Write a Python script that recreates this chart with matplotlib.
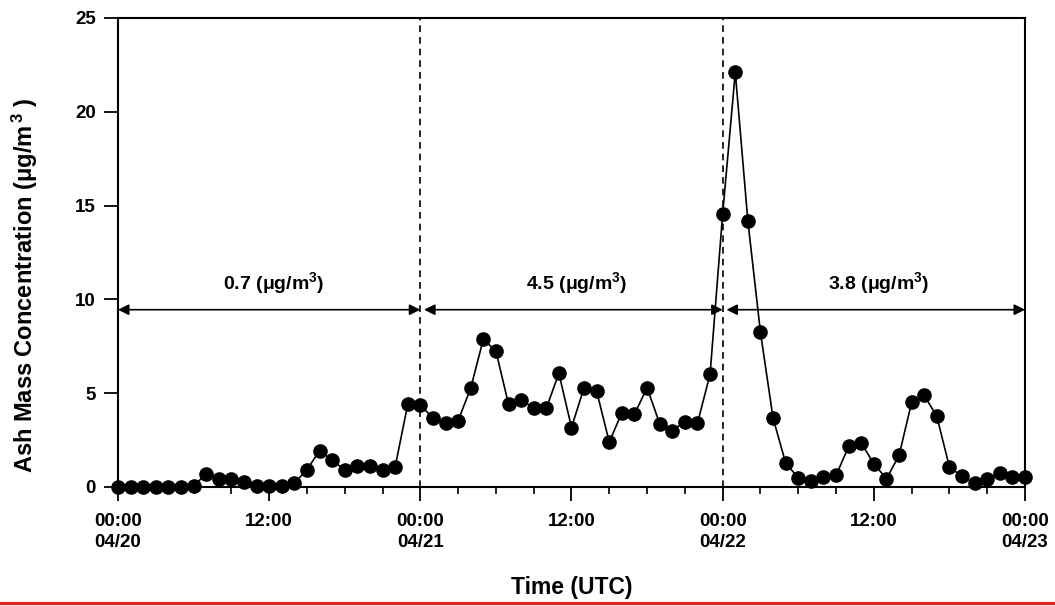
import matplotlib
matplotlib.use('Agg')
import matplotlib.pyplot as plt
from matplotlib.lines import Line2D
import numpy as np

plt.rcParams['font.family'] = 'Liberation Sans'
plt.rcParams['font.weight'] = 'bold'
plt.rcParams['mathtext.fontset'] = 'custom'
plt.rcParams['mathtext.rm'] = 'Liberation Sans:bold'
plt.rcParams['mathtext.it'] = 'Liberation Sans:bold'
plt.rcParams['mathtext.bf'] = 'Liberation Sans:bold'

# hourly ash mass concentration, 04/20 00:00 to 04/23 00:00
hours = np.arange(0, 73)
conc = [0.0, 0.0, 0.0, 0.0, 0.0, 0.0, 0.05, 0.7, 0.45, 0.4, 0.27, 0.05, 0.05, 0.05,
        0.2, 0.92, 1.93, 1.45, 0.9, 1.1, 1.1, 0.92, 1.06, 4.4, 4.35,
        3.7, 3.4, 3.53, 5.27, 7.87, 7.25, 4.41, 4.65, 4.2, 4.2, 6.06, 3.17,
        5.3, 5.09, 2.39, 3.97, 3.88, 5.3, 3.37, 3.01, 3.49, 3.4, 6.01, 14.57,
        22.11, 14.17, 8.24, 3.67, 1.28, 0.48, 0.3, 0.51, 0.62, 2.16, 2.34,
        1.24, 0.44, 1.68, 4.52, 4.88, 3.76, 1.06, 0.57, 0.21, 0.44, 0.74,
        0.51, 0.53]

day_bounds = [0, 24, 48, 72]
day_means = ['0.7', '4.5', '3.8']
tick_pos = [0, 12, 24, 36, 48, 60, 72]
tick_labels = ['00:00\n04/20', '12:00', '00:00\n04/21', '12:00',
               '00:00\n04/22', '12:00', '00:00\n04/23']

fig = plt.figure(figsize=(10.55, 6.06), dpi=100)
ax = fig.add_axes([0.1118, 0.1964, 0.8598, 0.7739])

ax.plot(hours, conc, color='black', lw=1.2, marker='o', markersize=9.5,
        markerfacecolor='black', markeredgecolor='black', zorder=3, clip_on=False)

# dashed lines at day boundaries
for b in day_bounds[1:-1]:
    ax.axvline(b, color='black', lw=1.2, ls=(0, (4, 3)), zorder=1)

# double arrows with daily mean
arr_y = 9.45
for i, m in enumerate(day_means):
    x0, x1 = day_bounds[i], day_bounds[i + 1]
    ax.annotate('', xy=(x1, arr_y), xytext=(x0 + 0.3 if i else x0, arr_y),
                arrowprops=dict(arrowstyle='<|-|>', color='black', lw=1.2,
                                mutation_scale=16, shrinkA=0, shrinkB=0),
                annotation_clip=False)
    ax.text((x0 + x1) / 2 + 0.4, arr_y + 0.72, m + r' ($\mu$g/m$^{3}$)',
            ha='center', va='bottom', fontsize=14, fontweight='bold')

ax.set_xlim(0, 72)
ax.set_ylim(0, 25)
ax.set_xticks(tick_pos)
ax.set_xticklabels(tick_labels, fontsize=13.5, fontweight='bold', linespacing=1.25)
ax.set_xticks(np.arange(0, 73, 3), minor=True)
ax.set_yticks(np.arange(0, 26, 5))
ax.set_yticklabels([str(v) for v in range(0, 26, 5)], fontsize=13.5, fontweight='bold')

ax.tick_params(axis='both', which='major', direction='out', length=10, width=1.3, pad=9)
ax.tick_params(axis='y', which='major', pad=6)
ax.tick_params(axis='x', which='minor', direction='out', length=5, width=1.2)
for s in ax.spines.values():
    s.set_linewidth(1.5)

ax.set_xlabel('Time (UTC)', fontsize=16.5, fontweight='bold', labelpad=18)
ax.set_ylabel(r'Ash Mass Concentration ($\mu$g/m$^{\,3}$ )', fontsize=17,
              fontweight='bold')
ax.yaxis.set_label_coords(-0.086, 0.43)

# red rule along the bottom edge
fig.add_artist(Line2D([0, 1], [0.0045, 0.0045], transform=fig.transFigure,
                      color='#ff1a1a', lw=2.2))

fig.savefig('out.png', dpi=100)
